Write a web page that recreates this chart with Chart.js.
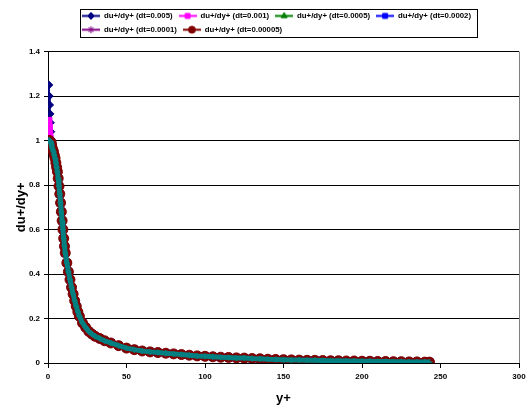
<!DOCTYPE html>
<html lang="en">
<head>
    <meta charset="UTF-8">
    <title>du+/dy+ vs y+</title>
    <style>
        html, body {
            margin: 0;
            padding: 0;
            background-color: #ffffff;
        }

        .chart-container {
            position: relative;
            width: 530px;
            height: 409px;
        }
    </style>
</head>
<body>

    <div class="chart-container">
        <canvas id="gradChart"></canvas>
    </div>

    <script src="https://cdn.jsdelivr.net/npm/chart.js@4"></script>
    <script>
        // near-wall points (fine grid) - these differ between time steps
        const yPlusHead = [0.5, 0.75, 1.0, 1.25, 1.5, 1.75, 2.0, 2.25];
        const headDt005 = [1.25, 1.2, 1.16, 1.12, 1.08, 1.04, 1.0, 0.98];
        const headDt001 = [1.09, 1.06, 1.03, 1.01, 1.0, 0.995, 0.99, 0.98];
        const headFine = [1.0, 1.0, 0.998, 0.997, 0.996, 0.995, 0.99, 0.98];

        // rest of the profile, all runs sit on top of each other here
        const yPlusTail = [
            2.5, 3, 3.5, 4, 4.5, 5, 5.5, 6, 6.5, 7, 7.5, 8, 8.5, 9, 9.5, 10, 10.5, 11,
            12, 13, 14, 15, 16, 17, 18, 19, 20,
            22, 24, 26, 28, 30, 33, 36, 40, 45,
            50, 55, 60, 65, 70, 75, 80, 85, 90, 95, 100,
            105, 110, 115, 120, 125, 130, 135, 140, 145, 150, 155, 160, 165, 170,
            175, 180, 185, 190, 195, 200, 205, 210, 215, 220, 225, 230, 235, 240,
            243
        ];
        const dudyTail = [
            0.97, 0.96, 0.95, 0.935, 0.92, 0.90, 0.88, 0.86, 0.83, 0.795, 0.76, 0.72, 0.68, 0.64, 0.60, 0.56, 0.525, 0.495,
            0.45, 0.41, 0.375, 0.34, 0.31, 0.28, 0.255, 0.23, 0.21,
            0.18, 0.16, 0.142, 0.13, 0.12, 0.11, 0.10, 0.09, 0.078,
            0.067, 0.060, 0.054, 0.050, 0.047, 0.044, 0.041, 0.038, 0.035, 0.032, 0.030,
            0.028, 0.026, 0.025, 0.023, 0.022, 0.020, 0.019, 0.017, 0.016, 0.015, 0.014, 0.013, 0.012, 0.012,
            0.011, 0.010, 0.010, 0.009, 0.009, 0.008, 0.008, 0.007, 0.007, 0.006, 0.006, 0.005, 0.005, 0.004,
            0.004
        ];

        const seriesLabels = [
            'du+/dy+ (dt=0.005)',
            'du+/dy+ (dt=0.001)',
            'du+/dy+ (dt=0.0005)',
            'du+/dy+ (dt=0.0002)',
            'du+/dy+ (dt=0.0001)',
            'du+/dy+ (dt=0.00005)'
        ];
        const seriesHeads = [headDt005, headDt001, headFine, headFine, headFine, headFine];

        const seriesColors = ['#000080', '#FF00FF', '#008000', '#0000FF', '#800080', '#800000'];
        const seriesMarkers = ['rectRot', 'rect', 'triangle', 'rect', 'star', 'circle'];
        const seriesRadius = [4, 4.5, 4, 5, 4.5, 5];

        const FONT = "'Liberation Sans', Arial, sans-serif";

        function toPoints(head) {
            const pts = yPlusHead.map((x, i) => ({ x: x, y: head[i] }));
            return pts.concat(yPlusTail.map((x, i) => ({ x: x, y: dudyTail[i] })));
        }

        // small line + marker picture for the legend, like excel does
        function legendIcon(color, marker) {
            const c = document.createElement('canvas');
            c.width = 18;
            c.height = 9;
            const g = c.getContext('2d');
            g.strokeStyle = color;
            g.fillStyle = color;
            g.lineWidth = 2;
            g.beginPath();
            g.moveTo(0, 4.5);
            g.lineTo(18, 4.5);
            g.stroke();
            g.lineWidth = 1;
            Chart.helpers.drawPoint(g, { pointStyle: marker, radius: 3.5, rotation: 0, borderWidth: 1 }, 9, 4.5);
            return c;
        }

        const datasets = seriesLabels.map((label, i) => ({
            label: label,
            data: toPoints(seriesHeads[i]),
            borderColor: seriesColors[i],
            backgroundColor: seriesColors[i],
            borderWidth: 2,
            pointStyle: seriesMarkers[i],
            pointRadius: seriesRadius[i],
            pointBorderWidth: 1,
            order: 10 - i
        }));

        // teal cross series drawn on top of the band
        datasets.push({
            label: '',
            data: toPoints(headFine),
            borderColor: '#008080',
            backgroundColor: '#008080',
            borderWidth: 5,
            pointStyle: 'cross',
            pointRadius: 3,
            pointBorderWidth: 1.5,
            order: 0
        });

        const legendFrame = {
            id: 'legendFrame',
            afterInit(chart) {
                // leave a gap between the legend and the plot
                const legend = chart.legend;
                const baseFit = legend.fit;
                legend.fit = function () {
                    baseFit.call(this);
                    this.height += 8;
                };
            },
            afterUpdate(chart) {
                // move the legend block right, like the excel one
                const legend = chart.legend;
                const dx = 76 - legend.left;
                legend.left += dx;
                legend.right += dx;
                legend.legendHitBoxes.forEach(b => { b.left += dx; });
            },
            afterDraw(chart) {
                const ctx = chart.ctx;
                const boxes = chart.legend.legendHitBoxes;
                const l = Math.min(...boxes.map(b => b.left)) - 2;
                const r = Math.max(...boxes.map(b => b.left + b.width)) + 6;
                const t = Math.min(...boxes.map(b => b.top)) - 3;
                const btm = Math.max(...boxes.map(b => b.top + b.height)) + 3;
                ctx.save();
                ctx.strokeStyle = '#000000';
                ctx.lineWidth = 1;
                ctx.strokeRect(Math.round(l) + 0.5, Math.round(t) + 0.5, Math.round(r - l), Math.round(btm - t));

                // grey plot-area border on the right
                const area = chart.chartArea;
                ctx.strokeStyle = '#808080';
                ctx.beginPath();
                ctx.moveTo(Math.round(area.right) + 0.5, area.top);
                ctx.lineTo(Math.round(area.right) + 0.5, area.bottom);
                ctx.stroke();
                ctx.restore();
            }
        };

        const ctx = document.getElementById('gradChart').getContext('2d');
        const gradChart = new Chart(ctx, {
            type: 'line',
            data: { datasets: datasets },
            options: {
                responsive: true,
                maintainAspectRatio: false,
                animation: false,
                layout: {
                    padding: { top: 6, right: 11, bottom: 0, left: 0 }
                },
                elements: {
                    line: { tension: 0 }
                },
                scales: {
                    x: {
                        type: 'linear',
                        min: 0,
                        max: 300,
                        ticks: {
                            stepSize: 50,
                            color: '#000000',
                            padding: 4,
                            font: { family: FONT, size: 8, weight: 'bold' }
                        },
                        grid: {
                            drawOnChartArea: false,
                            drawTicks: true,
                            tickLength: 5,
                            color: '#000000'
                        },
                        border: { color: '#000000' },
                        title: {
                            display: true,
                            text: 'y+',
                            color: '#000000',
                            padding: { top: 0, bottom: 3 },
                            font: { family: FONT, size: 13, weight: 'bold' }
                        },
                        afterFit(scale) {
                            scale.height = 46;
                        }
                    },
                    y: {
                        min: 0,
                        max: 1.4,
                        ticks: {
                            stepSize: 0.2,
                            color: '#000000',
                            padding: 4,
                            font: { family: FONT, size: 8, weight: 'bold' },
                            callback: value => +value.toFixed(1)
                        },
                        grid: {
                            color: '#000000',
                            tickLength: 4
                        },
                        border: { color: '#000000' },
                        title: {
                            display: true,
                            text: 'du+/dy+',
                            color: '#000000',
                            padding: { top: 14, bottom: 0 },
                            font: { family: FONT, size: 13, weight: 'bold' }
                        },
                        afterFit(scale) {
                            scale.width = 48;
                        }
                    }
                },
                plugins: {
                    legend: {
                        position: 'top',
                        align: 'start',
                        fullSize: false,
                        labels: {
                            usePointStyle: true,
                            pointStyleWidth: 18,
                            padding: 6,
                            color: '#000000',
                            font: { family: FONT, size: 7.8, weight: 'bold' },
                            generateLabels(chart) {
                                return seriesLabels.map((text, i) => ({
                                    text: text,
                                    datasetIndex: i,
                                    pointStyle: legendIcon(seriesColors[i], seriesMarkers[i]),
                                    fillStyle: seriesColors[i],
                                    strokeStyle: seriesColors[i],
                                    lineWidth: 0,
                                    fontColor: '#000000',
                                    hidden: false
                                }));
                            }
                        }
                    },
                    tooltip: { enabled: false }
                }
            },
            plugins: [legendFrame]
        });
    </script>

</body>
</html>
